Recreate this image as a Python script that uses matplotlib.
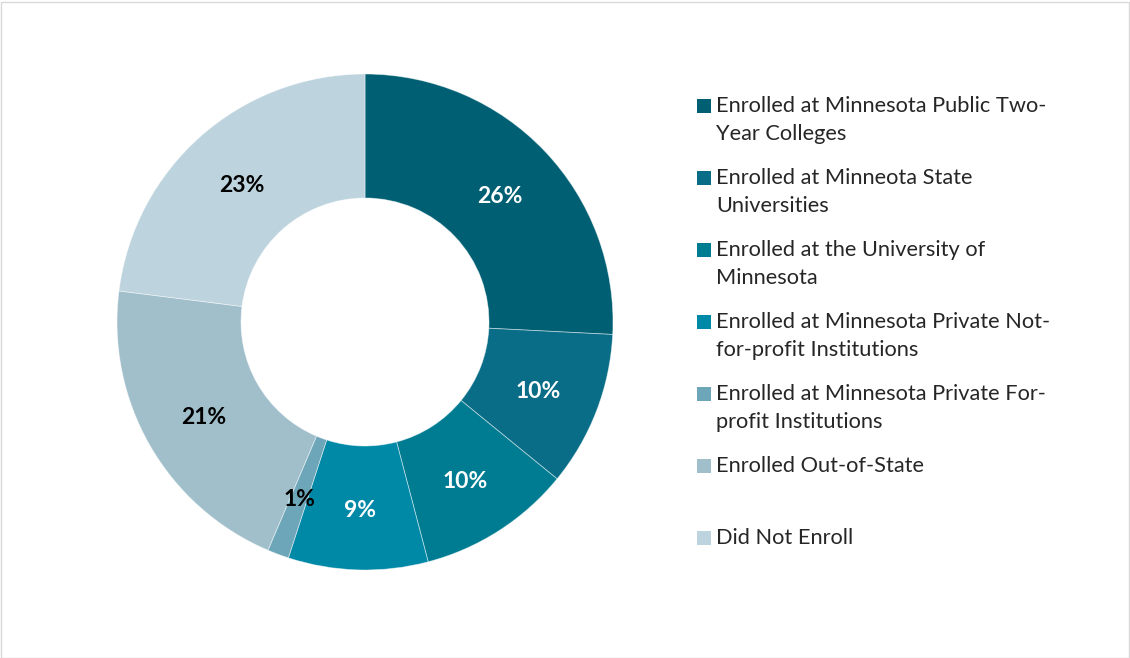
import matplotlib.pyplot as plt
from matplotlib.patches import Rectangle

plt.rcParams['font.family'] = ['Lato', 'DejaVu Sans']

# shares of graduates (percent)
categories = [
    "Enrolled at Minnesota Public Two-\nYear Colleges",
    "Enrolled at Minneota State\nUniversities",
    "Enrolled at the University of\nMinnesota",
    "Enrolled at Minnesota Private Not-\nfor-profit Institutions",
    "Enrolled at Minnesota Private For-\nprofit Institutions",
    "Enrolled Out-of-State",
    "Did Not Enroll",
]
shares = [25.8, 10.1, 10.0, 9.1, 1.4, 20.6, 23.0]
colors = ["#005F73", "#0A6D87", "#007C92", "#0089A7", "#6CA6B8", "#A0BFCB", "#BDD3DE"]
label_colors = ["white", "white", "white", "white", "black", "black", "black"]

W, H = 1130, 658
fig = plt.figure(figsize=(W / 100, H / 100), dpi=100)
fig.patch.set_facecolor("white")

# donut centred at (365, 322) px, outer radius ~248 px
cx, cy, r = 365, 322, 248
ax = fig.add_axes([(cx - r) / W, (H - cy - r) / H, 2 * r / W, 2 * r / H])
wedges, _, pcts = ax.pie(
    shares, colors=colors, startangle=90, counterclock=False,
    autopct="%.0f%%", pctdistance=0.75, radius=1,
    wedgeprops=dict(width=0.5, edgecolor=(1, 1, 1, 0.5), linewidth=0.6),
)
for t, c in zip(pcts, label_colors):
    t.set_color(c)
    t.set_fontsize(16.5)
    t.set_fontweight("bold")
    x, y = t.get_position()
    t.set_position((x, y - 0.012))
ax.set_xlim(-1, 1)
ax.set_ylim(-1, 1)
ax.set_aspect("equal")
ax.axis("off")

# legend drawn by hand to keep Excel-like spacing
rows = [106, 178, 250, 322, 394, 466, 538]
for cat, col, y in zip(categories, colors, rows):
    fig.patches.append(Rectangle((697 / W, 1 - (y + 7) / H), 14 / W, 14 / H,
                                 transform=fig.transFigure, facecolor=col,
                                 edgecolor="none"))
    for i, line in enumerate(cat.split("\n")):
        fig.text(716 / W, 1 - (y + 28 * i) / H, line, ha="left", va="center",
                 fontsize=15.7, color="#262626")

# light frame around the chart area
fig.patches.append(Rectangle((0.5 / W, 0.5 / H), 1 - 2 / W, 1 - 2 / H,
                             transform=fig.transFigure, facecolor="none",
                             edgecolor="#D9D9D9", linewidth=1))

fig.savefig("out.png", dpi=100, facecolor="white")
